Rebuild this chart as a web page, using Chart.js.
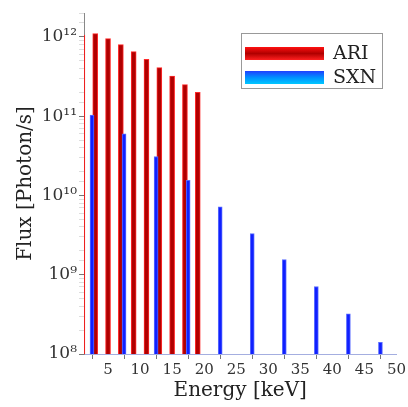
<!DOCTYPE html>
<html>
<head>
<meta charset="utf-8">
<script src="https://cdn.jsdelivr.net/npm/chart.js@4"></script>
<style>
  html, body { margin: 0; padding: 0; background: #fff; }
  #wrap { width: 408px; height: 407px; position: relative; }
</style>
</head>
<body>
<div id="wrap"><canvas id="fluxChart"></canvas></div>
<script>
Chart.defaults.font.family = '"DejaVu Serif", "Liberation Serif", serif';
Chart.defaults.color = '#222';

// ARI lines (keV) and flux
const ariEnergy = [1, 3, 5, 7, 9, 11, 13, 15, 17, 19];
const ariFlux = [1.05e12, 1.1e12, 9.5e11, 8.0e11, 6.5e11, 5.2e11, 4.1e11, 3.2e11, 2.5e11, 2.0e11];

// SXN lines
const sxnEnergy = [2.5, 7.5, 12.5, 17.5, 22.5, 27.5, 32.5, 37.5, 42.5, 47.5];
const sxnFlux = [1.03e11, 6.0e10, 3.1e10, 1.55e10, 7.2e9, 3.3e9, 1.55e9, 7.1e8, 3.2e8, 1.4e8];

const xTicks = [5, 10, 15, 20, 25, 30, 35, 40, 45, 50];
const sup = { '0': '⁰', '1': '¹', '2': '²', '3': '³', '4': '⁴', '5': '⁵', '6': '⁶', '7': '⁷', '8': '⁸', '9': '⁹' };

function isDecade(v) {
  const l = Math.log10(v);
  return Math.abs(l - Math.round(l)) < 1e-9;
}

// legend drawn in the upper right with gradient swatches
const boxLegend = {
  id: 'boxLegend',
  afterDraw(chart) {
    const ctx = chart.ctx;
    const x0 = 241, y0 = 33, w = 141, h = 55;
    ctx.save();
    ctx.fillStyle = '#fff';
    ctx.fillRect(x0, y0, w, h);
    ctx.strokeStyle = '#999';
    ctx.lineWidth = 1;
    ctx.strokeRect(x0 + 0.5, y0 + 0.5, w, h);
    const swatches = [
      { y: 47, stops: ['#ff1010', '#b00000', '#ff2020'] },
      { y: 71, stops: ['#2040ff', '#0090ff', '#00c8ff'] }
    ];
    chart.data.datasets.forEach((ds, i) => {
      const s = swatches[i];
      const g = ctx.createLinearGradient(0, s.y, 0, s.y + 13);
      g.addColorStop(0, s.stops[0]);
      g.addColorStop(0.5, s.stops[1]);
      g.addColorStop(1, s.stops[2]);
      ctx.fillStyle = g;
      ctx.fillRect(245, s.y, 79, 13);
      ctx.fillStyle = '#222';
      ctx.font = '19px "DejaVu Serif", serif';
      ctx.textBaseline = 'middle';
      ctx.fillText(ds.label, 333, s.y + 7);
    });
    ctx.restore();
  }
};

new Chart(document.getElementById('fluxChart'), {
  type: 'bar',
  data: {
    datasets: [
      {
        label: 'ARI',
        data: ariEnergy.map((e, i) => ({ x: e, y: ariFlux[i] })),
        backgroundColor: '#b00000',
        borderColor: '#ff2a2a',
        borderWidth: 1,
        barThickness: 5,
        grouped: false,
        order: 1
      },
      {
        label: 'SXN',
        data: sxnEnergy.map((e, i) => ({ x: e, y: sxnFlux[i] })),
        backgroundColor: '#1020ff',
        borderColor: '#5a6cff',
        borderWidth: 1,
        barThickness: 4,
        grouped: false,
        order: 0
      }
    ]
  },
  options: {
    responsive: true,
    maintainAspectRatio: false,
    animation: false,
    layout: { padding: { top: 13, right: 10, left: 10, bottom: 0 } },
    plugins: {
      legend: { display: false },
      tooltip: { enabled: false }
    },
    scales: {
      x: {
        type: 'linear',
        offset: false,
        min: 1.25,
        max: 50,
        afterBuildTicks: s => { s.ticks = xTicks.map(v => ({ value: v })); },
        afterFit: s => { s.height = 53; },
        border: { color: '#a4aee0' },
        grid: { drawOnChartArea: false, tickLength: 5, color: '#777' },
        ticks: { font: { size: 15 }, color: '#333', padding: 2, maxRotation: 0 },
        title: { display: true, text: 'Energy [keV]', font: { size: 20 }, color: '#222', padding: { top: 4 } }
      },
      y: {
        type: 'logarithmic',
        min: 1e8,
        max: 2e12,
        afterFit: s => { s.width = 74; },
        border: { color: '#888' },
        grid: {
          drawOnChartArea: false,
          tickLength: 5,
          color: c => isDecade(c.tick.value) ? '#777' : '#ddd'
        },
        ticks: {
          autoSkip: false,
          font: { size: 17 },
          color: '#333',
          padding: 2,
          callback: v => isDecade(v)
            ? '10' + String(Math.round(Math.log10(v))).split('').map(d => sup[d]).join('')
            : ''
        },
        title: { display: true, text: 'Flux [Photon/s]', font: { size: 20 }, color: '#222', padding: { bottom: 4 } }
      }
    }
  },
  plugins: [boxLegend]
});
</script>
</body>
</html>
